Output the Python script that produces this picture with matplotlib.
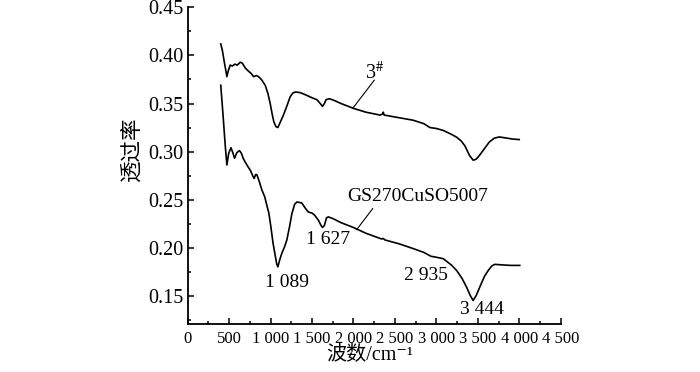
import matplotlib
matplotlib.use("Agg")
import matplotlib.pyplot as plt
from matplotlib.ticker import MultipleLocator, FuncFormatter

# 红外光谱数据
wn_3 = [400, 420, 445, 474, 490, 514, 540, 570, 600, 635, 660, 695, 730, 770,
        795, 830, 855, 890, 936, 970, 996, 1020, 1040, 1065, 1089, 1120, 1156,
        1200, 1237, 1270, 1300, 1350, 1397, 1450, 1500, 1558, 1600, 1627, 1650,
        1670, 1710, 1760, 1850, 1999, 2150, 2320, 2350, 2360, 2370, 2500, 2721,
        2850, 2922, 3000, 3083, 3180, 3244, 3300, 3344, 3400, 3444, 3480, 3520,
        3580, 3640, 3700, 3761, 3850, 3920, 4000]
tr_3 = [0.412, 0.405, 0.392, 0.378, 0.384, 0.390, 0.389, 0.391, 0.390, 0.393,
        0.392, 0.387, 0.384, 0.381, 0.378, 0.379, 0.378, 0.375, 0.369, 0.360,
        0.350, 0.339, 0.331, 0.326, 0.325, 0.331, 0.338, 0.348, 0.357, 0.361,
        0.362, 0.3615, 0.360, 0.358, 0.356, 0.354, 0.350, 0.347, 0.350, 0.354,
        0.355, 0.3535, 0.350, 0.345, 0.341, 0.338, 0.339, 0.341, 0.338, 0.336,
        0.3326, 0.329, 0.325, 0.324, 0.322, 0.318, 0.315, 0.311, 0.306, 0.296,
        0.291, 0.292, 0.296, 0.303, 0.310, 0.314, 0.3152, 0.314, 0.313, 0.3125]

wn_gs = [400, 430, 455, 474, 495, 523, 545, 566, 595, 626, 650, 670, 695, 730,
         760, 790, 803, 820, 835, 860, 896, 930, 956, 980, 1004, 1030, 1056,
         1075, 1089, 1110, 1136, 1170, 1197, 1230, 1257, 1290, 1317, 1350, 1377,
         1420, 1457, 1500, 1530, 1578, 1610, 1627, 1650, 1675, 1698, 1758, 1850,
         1999, 2150, 2340, 2360, 2380, 2550, 2721, 2850, 2935, 3000, 3083, 3180,
         3244, 3310, 3364, 3410, 3444, 3480, 3524, 3580, 3624, 3670, 3705, 3800,
         3900, 4006]
tr_gs = [0.369, 0.335, 0.305, 0.286, 0.298, 0.304, 0.299, 0.293, 0.299, 0.301,
         0.298, 0.293, 0.289, 0.284, 0.280, 0.274, 0.272, 0.276, 0.276, 0.270,
         0.260, 0.253, 0.244, 0.236, 0.222, 0.205, 0.192, 0.183, 0.180, 0.187,
         0.194, 0.201, 0.208, 0.222, 0.235, 0.245, 0.2475, 0.247, 0.2465, 0.241,
         0.237, 0.236, 0.234, 0.2285, 0.223, 0.221, 0.223, 0.231, 0.232, 0.230,
         0.226, 0.221, 0.215, 0.209, 0.2095, 0.208, 0.204, 0.199, 0.195, 0.191,
         0.190, 0.1885, 0.182, 0.1763, 0.168, 0.159, 0.150, 0.145, 0.150, 0.159,
         0.170, 0.176, 0.181, 0.1826, 0.182, 0.1815, 0.1815]

peak_labels = ["1 089", "1 627", "2 935", "3 444"]
peak_pos = [(1197, 0.1642), (1698, 0.2083), (2874, 0.1711), (3545, 0.1357)]

serif = ["Liberation Serif", "Noto Sans CJK SC", "DejaVu Serif"]
plt.rcParams["font.family"] = serif
plt.rcParams["mathtext.fontset"] = "stix"

fig = plt.figure(figsize=(7, 3.72), dpi=100)
ax = fig.add_axes([0.268, 0.129, 0.533, 0.851])

ax.plot(wn_3, tr_3, color="black", lw=1.2)
ax.plot(wn_gs, tr_gs, color="black", lw=1.2)

ax.set_xlim(0, 4500)
ax.set_ylim(0.1205, 0.45)
ax.spines["top"].set_visible(False)
ax.spines["right"].set_visible(False)
ax.spines["left"].set_linewidth(1.3)
ax.spines["bottom"].set_linewidth(1.3)

ax.xaxis.set_major_locator(MultipleLocator(500))
ax.xaxis.set_minor_locator(MultipleLocator(250))
ax.yaxis.set_major_locator(MultipleLocator(0.05))
ax.yaxis.set_minor_locator(MultipleLocator(0.025))
ax.xaxis.set_major_formatter(FuncFormatter(
    lambda v, p: f"{int(v):,}".replace(",", " ")))
ax.yaxis.set_major_formatter(FuncFormatter(lambda v, p: f"{v:.2f}"))
ax.tick_params(which="both", direction="in", width=1.1)
ax.tick_params(which="major", length=4)
ax.tick_params(which="minor", length=2.5)
ax.tick_params(axis="x", labelsize=12, pad=5)
ax.tick_params(axis="y", labelsize=14.5, pad=3)

# 曲线标注
ax.text(2260, 0.3816, r"3$^{\#}$", fontsize=14.5, ha="center", va="center")
ax.plot([2252, 1999], [0.3743, 0.3458], color="black", lw=0.8)
ax.text(2781, 0.2527, "GS270CuSO5007", fontsize=14, ha="center", va="center")
ax.plot([2232, 2040], [0.2406, 0.2188], color="black", lw=0.8)
for lab, (x, y) in zip(peak_labels, peak_pos):
    ax.text(x, y, lab, fontsize=14, ha="center", va="center")

fig.text(132 / 700, 1 - 150 / 372, "透过率", rotation=90, fontsize=15.5,
         ha="center", va="center")
fig.text(370 / 700, 1 - 355 / 372, "波数/cm⁻¹", fontsize=14.5,
         ha="center", va="center")

fig.savefig("out.png", dpi=100)
